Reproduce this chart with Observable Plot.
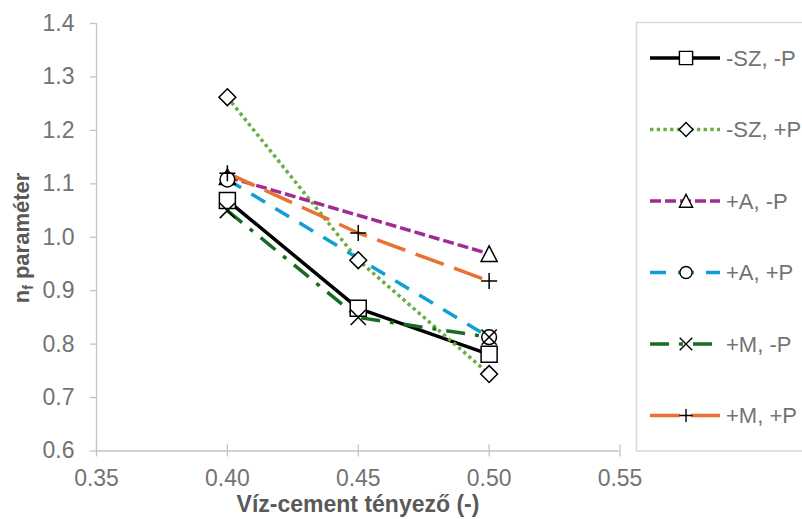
<!DOCTYPE html>
<html><head><meta charset="utf-8">
<script src="https://cdn.jsdelivr.net/npm/d3@7"></script>
<script src="https://cdn.jsdelivr.net/npm/@observablehq/plot@0.6"></script>
<style>
body{margin:0;background:#fff;}
#chart{position:relative;width:802px;height:519px;overflow:hidden;}
</style></head><body><div id="chart"></div>
<script>
// ---- data ----
const xValues = [0.40, 0.45, 0.50];
const seriesNames = ["-SZ, -P", "-SZ, +P", "+A, -P", "+A, +P", "+M, -P", "+M, +P"];
const szMinusP = [1.069, 0.867, 0.781];
const szPlusP  = [1.262, 0.957, 0.744];
const aMinusP  = [1.113, null, 0.969];
const aPlusP   = [1.108, null, 0.813];
const mMinusP  = [1.050, 0.850, 0.813];
const mPlusP   = [1.120, 1.008, 0.918];
const xTicks = [0.35, 0.40, 0.45, 0.50, 0.55];
const yTicks = [0.6, 0.7, 0.8, 0.9, 1.0, 1.1, 1.2, 1.3, 1.4];
const xTitle = "Víz-cement tényező (-)";
const yTitleMain = "n", yTitleSub = "f", yTitleRest = " paraméter";

// ---- symbols (Excel-like, half-size = r) ----
const rad = s => Math.sqrt(s / Math.PI);
const symSquare = {draw(c, s){const h = rad(s); c.rect(-h, -h, 2*h, 2*h);}};
const symDiamond = {draw(c, s){const h = rad(s)*1.05; c.moveTo(0,-h); c.lineTo(h,0); c.lineTo(0,h); c.lineTo(-h,0); c.closePath();}};
const symTriangle = {draw(c, s){const h = rad(s); c.moveTo(0,-h); c.lineTo(h,h*0.95); c.lineTo(-h,h*0.95); c.closePath();}};
const symCircle = {draw(c, s){const h = rad(s)*0.92; c.moveTo(h,0); c.arc(0,0,h,0,2*Math.PI); c.closePath();}};
const symTimes = {draw(c, s){const h = rad(s)*0.95; c.moveTo(-h,-h); c.lineTo(h,h); c.moveTo(-h,h); c.lineTo(h,-h);}};
const symPlus = {draw(c, s){const h = rad(s); c.moveTo(-h,0); c.lineTo(h,0); c.moveTo(0,-h); c.lineTo(0,h);}};

const seriesValues = [szMinusP, szPlusP, aMinusP, aPlusP, mMinusP, mPlusP];
const styles = [
  {color: "#000000", dash: null, symbol: symSquare, fill: "white"},
  {color: "#6AAE45", dash: "3.4,3.3", symbol: symDiamond, fill: "white"},
  {color: "#A02B93", dash: "11,4", symbol: symTriangle, fill: "white"},
  {color: "#0F9ED5", dash: "16,12", symbol: symCircle, fill: "white"},
  {color: "#196B24", dash: "19,10,4,10", symbol: symTimes, fill: "none"},
  {color: "#E97132", dash: "30,11", symbol: symPlus, fill: "none"}
];

const tables = seriesValues.map((vals, i) =>
  xValues.map((x, j) => ({x, y: vals[j], name: seriesNames[i]})).filter(d => d.y != null));

const gray = "#C4C4C4";
const textGray = "#737373";
const font = "'Liberation Sans', Arial, sans-serif";

const lineMarks = tables.map((t, i) => Plot.line(t, {
  x: "x", y: "y", stroke: styles[i].color, strokeWidth: 3.5,
  strokeDasharray: styles[i].dash ?? undefined, strokeLinecap: "butt", strokeLinejoin: "round"
}));
const dotMarks = tables.map((t, i) => Plot.dot(t, {
  x: "x", y: "y", r: 8, symbol: styles[i].symbol, fill: styles[i].fill,
  stroke: "black", strokeWidth: 1.5
}));

const plot = Plot.plot({
  width: 802, height: 519,
  marginLeft: 96, marginRight: 182.5, marginTop: 23, marginBottom: 68.5,
  x: {domain: [0.35, 0.55]},
  y: {domain: [0.6, 1.4]},
  style: {fontFamily: font, background: "white", overflow: "visible"},
  marks: [
    Plot.axisY({ticks: yTicks, tickFormat: d3.format(".1f"), tickSize: 6, tickPadding: 16,
      stroke: gray, strokeWidth: 1.3, fill: textGray, fontSize: 23, label: null}),
    Plot.axisX({ticks: xTicks, tickFormat: d3.format(".2f"), tickSize: 6, tickPadding: 13,
      stroke: gray, strokeWidth: 1.3, fill: textGray, fontSize: 23, label: null}),
    Plot.axisX({ticks: xTicks, tickFormat: () => "", tickSize: 6, dy: -6,
      stroke: gray, strokeWidth: 1.3, label: null}),
    Plot.ruleX([0.35], {stroke: gray, strokeWidth: 1.3}),
    Plot.ruleY([0.6], {stroke: gray, strokeWidth: 1.3}),
    ...lineMarks,
    ...dotMarks
  ]
});
document.getElementById("chart").appendChild(plot);

// ---- titles & legend ----
const svg = d3.select(plot);
svg.append("text")
  .attr("x", 358).attr("y", 512)
  .attr("text-anchor", "middle")
  .attr("font-family", font).attr("font-size", 23).attr("font-weight", "bold")
  .attr("fill", "#595959")
  .text(xTitle);

const yt = svg.append("text")
  .attr("transform", "translate(28.5,238) rotate(-90)")
  .attr("text-anchor", "middle")
  .attr("font-family", font).attr("font-size", 22).attr("font-weight", "bold")
  .attr("fill", "#595959");
yt.append("tspan").text(yTitleMain);
yt.append("tspan").attr("font-size", 14).attr("dy", 4).text(yTitleSub);
yt.append("tspan").attr("dy", -4).text(yTitleRest);

const lg = svg.append("g").attr("text-anchor", "start");
lg.append("rect").attr("x", 636.5).attr("y", 22.5).attr("width", 220).attr("height", 428.5)
  .attr("fill", "white").attr("stroke", "#D9D9D9").attr("stroke-width", 1.5);
seriesNames.forEach((name, i) => {
  const yy = 58 + i * 71.5;
  const st = styles[i];
  lg.append("line").attr("x1", 650).attr("x2", 720).attr("y1", yy).attr("y2", yy)
    .attr("stroke", st.color).attr("stroke-width", 3.5)
    .attr("stroke-dasharray", st.dash);
  lg.append("path").attr("d", d3.symbol(st.symbol, Math.PI * 6.6 * 6.6)())
    .attr("transform", `translate(686,${yy})`)
    .attr("fill", st.fill).attr("stroke", "black").attr("stroke-width", 1.4);
  lg.append("text").attr("x", 726).attr("y", yy).attr("dy", "0.36em")
    .attr("text-anchor", "start")
    .attr("font-family", font).attr("font-size", 22).attr("fill", textGray)
    .text(name);
});
</script></body></html>
